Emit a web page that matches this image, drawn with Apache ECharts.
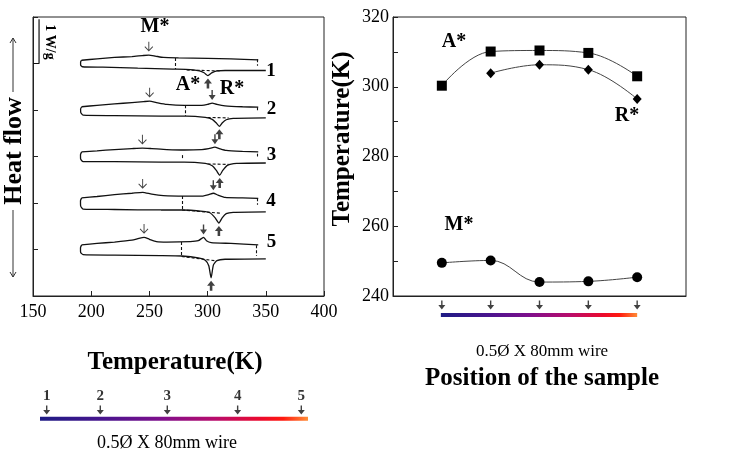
<!DOCTYPE html>
<html><head><meta charset="utf-8">
<script src="https://cdn.jsdelivr.net/npm/echarts@6/dist/echarts.min.js"></script>
<style>html,body{margin:0;padding:0;background:#fff}#c{width:740px;height:460px}</style>
</head><body><div id="c"></div>
<script>
// ---- right panel: transformation temperatures vs. sample position ----
const samplePositions = [1, 2, 3, 4, 5];
const mStar = [249.5, 250.2, 244.0, 244.2, 245.4];
const aStar = [300.3, 310.1, 310.4, 309.7, 303.0];
const rStar = [null, 303.9, 306.3, 304.9, 296.5];

// ---- bottom-left wire: sample positions along the 80 mm wire (mm) ----
const wirePosMm = [2, 18, 38, 59, 78];
const wireLabels = ['1', '2', '3', '4', '5'];

// ---- left panel: DSC traces, [T (K), heat flow relative to trace offset (W/g)] ----
const curveOffset = [5, 4, 3, 2, 1];
const cool1 = [[191.8,0.07],[205,0.10],[220,0.13],[235,0.15],[244,0.17],[249.5,0.18],[255,0.16],[262,0.13],[275,0.12],[300,0.11],[320,0.10],[343.5,0.08]];
const heat1 = [[191.8,0.07],[190.9,0.03],[190.9,-0.03],[192.5,-0.07],[210,-0.08],[240,-0.10],[270,-0.12],[285,-0.13],[293,-0.16],[297,-0.2],[300.3,-0.26],[303.5,-0.2],[308,-0.16],[315,-0.15],[350,-0.15]];
const cool2 = [[191.8,0.07],[205,0.10],[220,0.13],[235,0.16],[245,0.18],[250.2,0.19],[256,0.16],[265,0.12],[280,0.10],[295,0.10],[300,0.12],[303.9,0.15],[308,0.12],[315,0.09],[330,0.07],[343.5,0.06]];
const heat2 = [[191.8,0.07],[190.9,0.02],[191,-0.05],[193,-0.11],[220,-0.12],[260,-0.13],[282,-0.13],[298,-0.16],[304,-0.2],[307.5,-0.28],[310.1,-0.35],[312.5,-0.28],[316,-0.21],[322,-0.18],[350,-0.17]];
const cool3 = [[191.8,0.10],[205,0.12],[220,0.15],[235,0.17],[244,0.18],[252,0.17],[265,0.15],[280,0.14],[295,0.15],[301,0.17],[306.3,0.20],[310,0.17],[316,0.13],[330,0.11],[343.5,0.10]];
const heat3 = [[191.8,0.10],[190.8,0.04],[190.9,-0.05],[193,-0.11],[220,-0.11],[260,-0.12],[280,-0.12],[298,-0.15],[304,-0.2],[307.5,-0.3],[310.4,-0.4],[313,-0.3],[317,-0.19],[325,-0.15],[350,-0.14]];
const cool4 = [[191.8,0.11],[205,0.14],[220,0.18],[235,0.21],[244.2,0.23],[252,0.19],[262,0.16],[280,0.15],[296,0.15],[301,0.18],[304.9,0.21],[309,0.17],[315,0.12],[330,0.11],[343.5,0.10]];
const heat4 = [[191.8,0.11],[190.8,0.05],[190.9,-0.06],[193,-0.13],[220,-0.14],[260,-0.15],[278,-0.15],[296,-0.18],[302,-0.21],[306.5,-0.32],[309.7,-0.43],[312.5,-0.32],[316,-0.23],[322,-0.2],[350,-0.19]];
const cool5 = [[191.8,0.10],[205,0.13],[220,0.16],[235,0.20],[241,0.24],[245.4,0.26],[250,0.22],[256,0.17],[265,0.16],[285,0.17],[292,0.19],[296.5,0.26],[299,0.19],[303,0.15],[320,0.13],[343.5,0.10]];
const heat5 = [[191.8,0.10],[190.8,0.04],[190.9,-0.06],[193,-0.11],[220,-0.12],[260,-0.13],[278,-0.14],[292,-0.18],[298,-0.23],[301,-0.35],[303,-0.61],[305,-0.33],[308,-0.24],[315,-0.21],[350,-0.2]];
// dashed integration lines per trace: [[T,hf],[T,hf]] segments
const dash1 = [[[272.6,0.12],[272.6,-0.12]],[[282,-0.14],[312,-0.16]],[[343,0.09],[343,-0.05]]];
const dash2 = [[[281,0.10],[281,-0.13]],[[300,-0.16],[318,-0.17]],[[343,0.06],[343,-0.05]]];
const dash3 = [[[278,0.03],[278,-0.07]],[[300,-0.16],[318,-0.17]],[[343,0.06],[343,0.0]]];
const dash4 = [[[278,0.15],[278,-0.15]],[[278,-0.15],[312,-0.22]],[[343,0.10],[343,-0.04]]];
const dash5 = [[[277.7,0.16],[277.7,-0.14]],[[277.7,-0.15],[306,-0.24]],[[341.5,0.09],[341.5,-0.14]]];
const scaleBar = [[150,5],[155.2,5],[155.2,5.95]];

const coolCurves = [cool1, cool2, cool3, cool4, cool5];
const heatCurves = [heat1, heat2, heat3, heat4, heat5];
const dashes = [dash1, dash2, dash3, dash4, dash5];

const SERIF = '"Liberation Serif", "Times New Roman", serif';
const INK = '#111';
function valAt(arr, x) {
  for (let i = 0; i < arr.length - 1; i++) {
    const a = arr[i], b = arr[i + 1];
    if ((x >= a[0] && x <= b[0])) { const t = (x - a[0]) / ((b[0] - a[0]) || 1); return a[1] + t * (b[1] - a[1]); }
  }
  return arr[arr.length - 1][1];
}
const gradient = {type:'linear', x:0, y:0, x2:1, y2:0, colorStops:[
  {offset:0, color:'#1c1c84'},{offset:0.25, color:'#4a148e'},{offset:0.45, color:'#7e0f8c'},
  {offset:0.65, color:'#b80c6c'},{offset:0.82, color:'#ec0a2c'},{offset:0.9, color:'#ff1a10'},{offset:1, color:'#ff9a3a'}]};
const downArrow = 'path://M4,0 L6,0 L6,6 L10,6 L5,12 L0,6 L4,6 Z';
const upArrow = 'path://M5,0 L10,6 L6.6,6 L6.6,12 L3.4,12 L3.4,6 L0,6 Z';
const openDown = 'path://M5,0 L5,12 M0.5,6.5 L5,12 L9.5,6.5';

const series = [];
coolCurves.forEach((c, i) => {
  const off = curveOffset[i];
  series.push({type:'line', xAxisIndex:0, yAxisIndex:0, symbol:'none', smooth:0.2,
    lineStyle:{color:INK, width:1.3}, data:c.map(p => [p[0], off + p[1]]),
    markLine:{symbol:'none', silent:true, label:{show:false}, lineStyle:{type:[3,2], color:INK, width:1.1},
      data: dashes[i].map(s => [{coord:[s[0][0], off + s[0][1]]}, {coord:[s[1][0], off + s[1][1]]}])}});
  series.push({type:'line', xAxisIndex:0, yAxisIndex:0, symbol:'none', smooth:0.2,
    lineStyle:{color:INK, width:1.3}, data:heatCurves[i].map(p => [p[0], off + p[1]])});
});
series.push({type:'line', xAxisIndex:0, yAxisIndex:0, symbol:'none', lineStyle:{color:INK, width:1.2}, data:scaleBar});
// arrows marking M*, A*, R* on the DSC traces
series.push({type:'scatter', xAxisIndex:0, yAxisIndex:0, symbol:openDown, symbolSize:[8,9],
  itemStyle:{color:'rgba(0,0,0,0)', borderColor:INK, borderWidth:1},
  data: mStar.map((m, i) => [m, curveOffset[i] + valAt(coolCurves[i], m) + 0.19])});
series.push({type:'scatter', xAxisIndex:0, yAxisIndex:0, symbol:upArrow, symbolSize:[8,10],
  itemStyle:{color:INK},
  data: aStar.map((a, i) => [a, curveOffset[i] + Math.min(...heatCurves[i].map(p => p[1])) - 0.17])});
series.push({type:'scatter', xAxisIndex:0, yAxisIndex:0, symbol:downArrow, symbolSize:[7,10],
  itemStyle:{color:INK},
  data: rStar.map((r, i) => r == null ? null : [r, curveOffset[i] + valAt(coolCurves[i], r) + 0.17]).filter(d => d)});

// right panel
const lineCommon = {type:'line', xAxisIndex:1, yAxisIndex:1, smooth:0.4, lineStyle:{color:'#444', width:1}, itemStyle:{color:'#000'}};
series.push(Object.assign({}, lineCommon, {symbol:'rect', symbolSize:10, data: aStar.map((v, i) => [samplePositions[i], v])}));
series.push(Object.assign({}, lineCommon, {symbol:'diamond', symbolSize:[9,10], data: rStar.map((v, i) => v == null ? null : [samplePositions[i], v]).filter(d => d)}));
series.push(Object.assign({}, lineCommon, {symbol:'circle', symbolSize:10, data: mStar.map((v, i) => [samplePositions[i], v])}));

// wire bars
series.push({type:'line', xAxisIndex:2, yAxisIndex:2, symbol:'none', clip:false, lineStyle:{color:gradient, width:4}, data:[[0,0],[80,0]]});
series.push({type:'scatter', xAxisIndex:2, yAxisIndex:2, symbol:downArrow, symbolSize:[7,9], clip:false, itemStyle:{color:INK},
  label:{show:true, position:'top', distance:2, formatter:p => wireLabels[p.dataIndex], fontFamily:SERIF, fontWeight:'bold', fontSize:15, color:'#000'},
  data: wirePosMm.map(x => [x, 1])});
series.push({type:'line', xAxisIndex:3, yAxisIndex:3, symbol:'none', clip:false, lineStyle:{color:gradient, width:4}, data:[[0.98,0],[5,0]]});
series.push({type:'scatter', xAxisIndex:3, yAxisIndex:3, symbol:downArrow, symbolSize:[7,9], clip:false, itemStyle:{color:INK},
  data: samplePositions.map(x => [x, 1])});

const axisLine = {show:true, lineStyle:{color:'#222', width:1}};
const hidden = {show:false};
const option = {
  animation:false,
  backgroundColor:'#fff',
  grid:[
    {left:33, top:17, width:291, height:279, show:true, borderColor:'#222', borderWidth:1, outerBoundsMode:'none'},
    {left:393, top:17, width:293, height:279, show:true, borderColor:'#222', borderWidth:1, outerBoundsMode:'none'},
    {left:40, top:410, width:268, height:8.7, outerBoundsMode:'none'},
    {left:393, top:305, width:293, height:10, outerBoundsMode:'none'}
  ],
  xAxis:[
    {gridIndex:0, type:'value', min:150, max:400, interval:50, axisLine:axisLine,
     axisTick:{inside:true, length:5, lineStyle:{color:'#222'}},
     axisLabel:{color:'#000', fontFamily:SERIF, fontSize:18, margin:7}, splitLine:hidden},
    {gridIndex:1, type:'value', min:0, max:6, interval:1, axisLine:axisLine, axisTick:hidden, axisLabel:hidden, splitLine:hidden},
    {gridIndex:2, type:'value', min:0, max:80, show:false},
    {gridIndex:3, type:'value', min:0, max:6, show:false}
  ],
  yAxis:[
    {gridIndex:0, type:'value', min:0, max:6, interval:1, axisLine:axisLine,
     axisTick:{inside:true, length:5, lineStyle:{color:'#222'}}, axisLabel:hidden, splitLine:hidden},
    {gridIndex:1, type:'value', min:240, max:320, interval:20, axisLine:axisLine,
     axisTick:{inside:true, length:5, lineStyle:{color:'#222'}},
     minorTick:{show:true, splitNumber:2, length:5, lineStyle:{color:'#222'}},
     axisLabel:{color:'#000', fontFamily:SERIF, fontSize:18, margin:4}, splitLine:hidden, minorSplitLine:hidden},
    {gridIndex:2, type:'value', min:0, max:1, show:false},
    {gridIndex:3, type:'value', min:0, max:1, show:false}
  ],
  series: series,
  graphic: [
    // Heat flow label with arrows
    {type:'text', x:14, y:151, rotation:Math.PI/2, style:{text:'Heat flow', x:0, y:0, align:'center', verticalAlign:'middle', font:'bold 26px ' + SERIF, fill:'#000'}},
    {type:'line', shape:{x1:13, y1:38, x2:13, y2:92}, style:{stroke:'#333', lineWidth:1}},
    {type:'polyline', shape:{points:[[10,43],[13,38],[16,43]]}, style:{stroke:'#333', lineWidth:1, fill:null}},
    {type:'line', shape:{x1:13, y1:210, x2:13, y2:277}, style:{stroke:'#333', lineWidth:1}},
    {type:'polyline', shape:{points:[[10,272],[13,277],[16,272]]}, style:{stroke:'#333', lineWidth:1, fill:null}},
    {type:'text', x:50, y:42, rotation:-Math.PI/2, style:{text:'1 W/g', x:0, y:0, align:'center', verticalAlign:'middle', font:'bold 14px ' + SERIF, fill:'#000'}},
    // DSC labels
    {type:'text', style:{text:'M*', x:155, y:27, align:'center', verticalAlign:'middle', font:'bold 20px ' + SERIF, fill:'#000'}},
    {type:'text', style:{text:'A*', x:188, y:85, align:'center', verticalAlign:'middle', font:'bold 20px ' + SERIF, fill:'#000'}},
    {type:'text', style:{text:'R*', x:232, y:89, align:'center', verticalAlign:'middle', font:'bold 20px ' + SERIF, fill:'#000'}},
    {type:'text', style:{text:'1', x:271, y:71, align:'center', verticalAlign:'middle', font:'bold 19px ' + SERIF, fill:'#000'}},
    {type:'text', style:{text:'2', x:271.5, y:109, align:'center', verticalAlign:'middle', font:'bold 19px ' + SERIF, fill:'#000'}},
    {type:'text', style:{text:'3', x:271.5, y:155, align:'center', verticalAlign:'middle', font:'bold 19px ' + SERIF, fill:'#000'}},
    {type:'text', style:{text:'4', x:271, y:201, align:'center', verticalAlign:'middle', font:'bold 19px ' + SERIF, fill:'#000'}},
    {type:'text', style:{text:'5', x:271.5, y:242, align:'center', verticalAlign:'middle', font:'bold 19px ' + SERIF, fill:'#000'}},
    {type:'text', style:{text:'Temperature(K)', x:175, y:363, align:'center', verticalAlign:'middle', font:'bold 25px ' + SERIF, fill:'#000'}},
    {type:'text', style:{text:'0.5Ø X 80mm wire', x:167, y:443, align:'center', verticalAlign:'middle', font:'18px ' + SERIF, fill:'#000'}},
    // right panel labels
    {type:'text', x:343, y:139, rotation:Math.PI/2, style:{text:'Temperature(K)', x:0, y:0, align:'center', verticalAlign:'middle', font:'bold 25px ' + SERIF, fill:'#000'}},
    {type:'text', style:{text:'A*', x:454, y:42, align:'center', verticalAlign:'middle', font:'bold 20px ' + SERIF, fill:'#000'}},
    {type:'text', style:{text:'R*', x:627, y:116, align:'center', verticalAlign:'middle', font:'bold 20px ' + SERIF, fill:'#000'}},
    {type:'text', style:{text:'M*', x:459, y:225, align:'center', verticalAlign:'middle', font:'bold 20px ' + SERIF, fill:'#000'}},
    {type:'text', style:{text:'0.5Ø X 80mm wire', x:542, y:352, align:'center', verticalAlign:'middle', font:'17px ' + SERIF, fill:'#000'}},
    {type:'text', style:{text:'Position of the sample', x:542, y:379, align:'center', verticalAlign:'middle', font:'bold 25px ' + SERIF, fill:'#000'}}
  ]
};
const chart = echarts.init(document.getElementById('c'), null, {renderer:'canvas'});
chart.setOption(option);
</script>
</body></html>
